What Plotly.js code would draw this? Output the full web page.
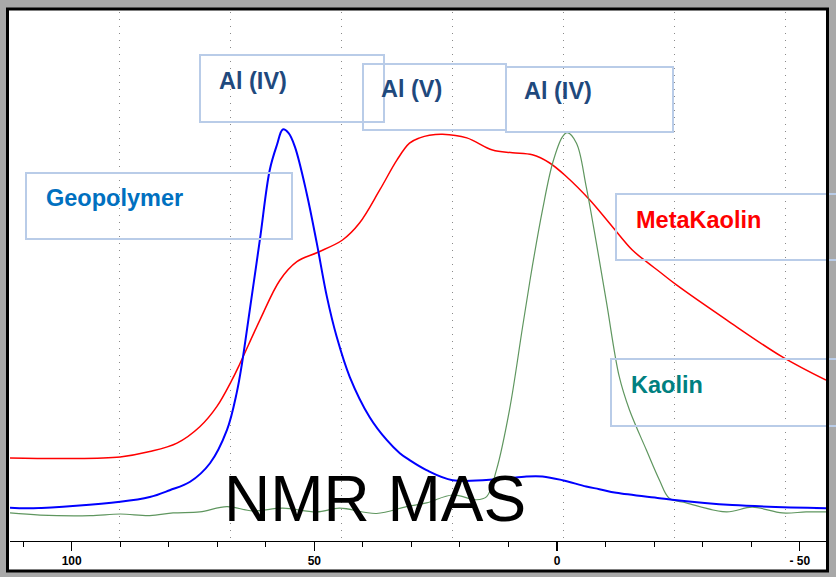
<!DOCTYPE html>
<html>
<head>
<meta charset="utf-8">
<script src="https://cdn.plot.ly/plotly-3.0.1.min.js"></script>
<style>
  html, body { margin: 0; padding: 0; background: #a8a8a8; }
  #chart { width: 836px; height: 577px; }
</style>
</head>
<body>
<div id="chart"></div>
<script>
// Chemical shift (ppm) and intensity (arbitrary units, 0-100)
const geoX = [112.7,107.9,90.0,83.9,79.8,75.6,71.5,68.0,66.0,64.9,63.3,61.2,59.2,57.7,56.5,55.3,54.0,51.6,49.5,47.4,45.4,42.7,38.6,35.1,32.4,30.4,26.9,21.5,11.9,6.3,3.0,-1.1,-6.0,-8.7,-12.2,-21.1,-23.7,-36.1,-55.4];
const geoY = [6.3,6.2,7.4,8.3,9.6,11.2,14.7,21.0,28.0,33.6,43.7,57.1,70.1,74.9,77.8,77.1,74.5,65.8,56.3,46.1,38.6,31.0,23.4,19.1,16.6,15.3,13.4,11.5,11.7,12.2,12.2,11.5,10.3,9.8,9.1,8.1,7.8,6.8,6.2];

const metaX = [112.7,100.9,90.0,83.9,78.3,73.6,70.1,67.0,65.3,61.2,57.1,53.6,49.5,44.2,40.7,36.5,33.0,30.4,28.3,26.3,23.6,18.6,13.3,9.2,5.1,1.6,-1.9,-6.7,-11.4,-15.5,-18.4,-21.1,-24.6,-34.9,-46.4,-55.4];
const metaY = [15.7,15.6,15.9,16.9,18.5,21.6,25.4,30.4,33.6,41.8,49.3,52.8,54.5,56.9,60.1,66.4,72.0,75.2,76.2,76.7,76.9,76.2,73.9,73.4,73.0,71.5,68.9,64.5,59.4,55.0,52.8,50.9,48.4,41.8,34.8,30.4];

const kaoX = [112.7,106.5,96.2,90.0,83.9,79.1,73.6,68.0,62.7,56.5,49.5,44.8,37.2,31.0,26.9,21.5,16.6,14.5,12.5,9.8,7.1,5.1,3.0,0.9,-1.1,-2.1,-4.0,-6.0,-8.1,-10.2,-12.8,-14.9,-18.4,-21.1,-23.1,-26.6,-34.9,-40.2,-46.4,-51.3,-55.4];
const kaoY = [5.3,4.9,4.8,5.1,4.8,5.3,5.5,6.5,5.7,6.2,5.5,6.2,5.2,6.5,7.2,8.7,7.8,8.4,13.4,24.8,40.5,51.9,62.6,71.5,76.4,77.2,75.2,67.0,56.3,45.0,31.1,24.8,17.2,11.5,8.1,7.2,5.5,6.4,5.3,5.5,5.5];

const xRange = [112.7, -55.4];
const tickLabelVals = [100, 50, 0, -50];
const tickLabelText = ['100', '50', '0', '- 50'];

const labels = ['Al (IV)', 'Al (V)', 'Al (IV)', 'Geopolymer', 'MetaKaolin', 'Kaolin'];
const title = 'NMR MAS';

const FONT = 'Liberation Sans, Arial, Helvetica, sans-serif';

const traces = [
  {x: [], y: [], xaxis: 'x2', yaxis: 'y', type: 'scatter', mode: 'lines', hoverinfo: 'skip', showlegend: false},
  {x: metaX, y: metaY, type: 'scatter', mode: 'lines', name: 'MetaKaolin',
   line: {color: '#ff0000', width: 1.5, shape: 'spline', smoothing: 1}},
  {x: kaoX, y: kaoY, type: 'scatter', mode: 'lines', name: 'Kaolin',
   line: {color: '#5f965f', width: 1.2, shape: 'spline', smoothing: 1}},
  {x: geoX, y: geoY, type: 'scatter', mode: 'lines', name: 'Geopolymer',
   line: {color: '#0000ff', width: 2, shape: 'spline', smoothing: 1}}
];

function px2x(px) { return (px - 10) / 816; }
function py2y(py) { return (541 - py) / 529; }
function box(x0, y0, x1, y1) {
  return {type: 'rect', xref: 'paper', yref: 'paper', layer: 'above',
    x0: px2x(x0), x1: px2x(x1), y0: py2y(y1), y1: py2y(y0),
    line: {color: '#b9cce8', width: 2}, fillcolor: 'rgba(0,0,0,0)'};
}

const shapes = [
  {type: 'rect', xref: 'paper', yref: 'paper', layer: 'below',
   x0: px2x(7.5), x1: px2x(827.5), y0: py2y(571), y1: py2y(9),
   line: {width: 0}, fillcolor: '#ffffff'},
  box(200, 55, 384, 122),
  box(363, 64, 506, 130),
  box(506, 67, 673, 132),
  box(26, 173, 292, 239),
  box(616, 194, 840, 260),
  box(611, 359, 840, 426),
  {type: 'rect', xref: 'paper', yref: 'paper', layer: 'above',
   x0: px2x(7.5), x1: px2x(827.5), y0: py2y(571), y1: py2y(9),
   line: {color: '#000000', width: 3}, fillcolor: 'rgba(0,0,0,0)'}
];

function ann(text, px, py, color, size, anchor, bold) {
  return {text: bold ? '<b>' + text + '</b>' : text, xref: 'paper', yref: 'paper',
    x: px2x(px), y: py2y(py), xanchor: anchor, yanchor: 'middle', showarrow: false,
    font: {family: FONT, size: size, color: color}};
}

const annotations = [
  ann(labels[0], 217, 81, '#1f497d', 23.5, 'left', true),
  ann(labels[1], 379, 89.5, '#1f497d', 23.5, 'left', true),
  ann(labels[2], 522, 91.3, '#1f497d', 23.5, 'left', true),
  ann(labels[3], 43.7, 198, '#0070c0', 23.5, 'left', true),
  ann(labels[4], 634, 219.7, '#ff0000', 23.5, 'left', true),
  ann(labels[5], 629, 385, '#008080', 23.5, 'left', true),
  ann(title, 374.5, 498.5, '#000000', 64, 'center', false)
];

const layout = {
  width: 836, height: 577,
  margin: {l: 10, r: 10, t: 12, b: 36, autoexpand: false},
  paper_bgcolor: '#a8a8a8',
  plot_bgcolor: 'rgba(0,0,0,0)',
  showlegend: false,
  hovermode: false,
  xaxis: {
    range: xRange, autorange: false,
    tickmode: 'array', tickvals: tickLabelVals, ticktext: tickLabelText,
    ticks: 'outside', ticklen: 9, tickwidth: 1.3, tickcolor: '#000',
    minor: {tickmode: 'linear', tick0: 0, dtick: 10, ticks: 'outside', ticklen: 5, tickwidth: 1, tickcolor: '#000', showgrid: false},
    showline: true, linecolor: '#000', linewidth: 1,
    showgrid: false, zeroline: false,
    tickfont: {family: FONT, size: 12, color: '#000', weight: 'bold'}
  },
  xaxis2: {
    overlaying: 'x', anchor: 'y', side: 'top',
    range: xRange, autorange: false,
    tickmode: 'linear', tick0: -1.3, dtick: 22.86,
    showgrid: true, gridcolor: '#8a8a8a', gridwidth: 1, griddash: '1px,6px',
    showticklabels: false, ticks: '', showline: false, zeroline: false
  },
  yaxis: {range: [0, 100], autorange: false, visible: false, showgrid: false, zeroline: false},
  shapes: shapes,
  annotations: annotations
};

Plotly.newPlot('chart', traces, layout, {displayModeBar: false, staticPlot: true});
</script>
</body>
</html>
